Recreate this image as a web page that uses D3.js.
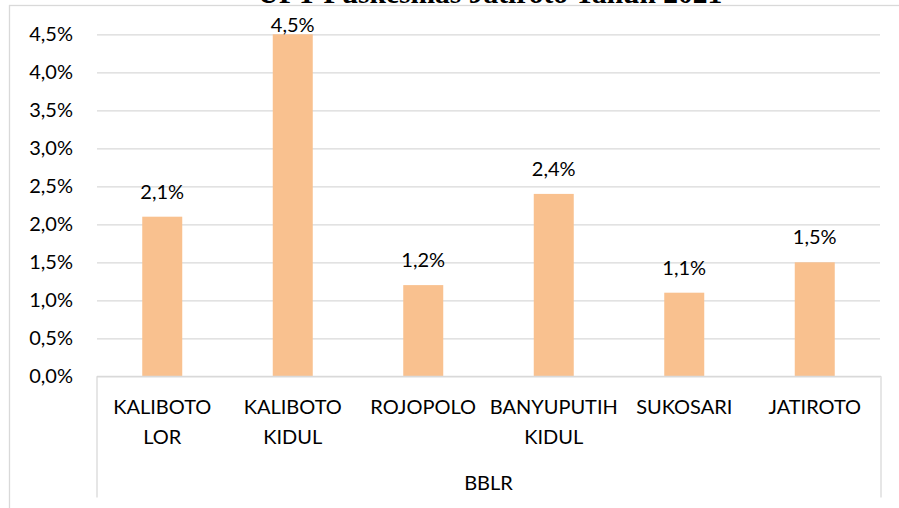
<!DOCTYPE html>
<html>
<head>
<meta charset="utf-8">
<script src="https://cdn.jsdelivr.net/npm/d3@7"></script>
<style>
  body { margin: 0; background: #fff; }
  svg { display: block; }
</style>
</head>
<body>
<div id="chart"></div>
<script>
var categories = ["KALIBOTO LOR", "KALIBOTO KIDUL", "ROJOPOLO", "BANYUPUTIH KIDUL", "SUKOSARI", "JATIROTO"];
var values = [2.1, 4.5, 1.2, 2.4, 1.1, 1.5];
var yTicks = [0, 0.5, 1, 1.5, 2, 2.5, 3, 3.5, 4, 4.5];
var groupLabel = "BBLR";
var titleText = "UPT Puskesmas Jatiroto Tahun 2021";

var width = 899, height = 508;
var plot = { left: 97, right: 880, top: 34.3, bottom: 376.3 };

var fmt = function(v){ return v.toFixed(1).replace(".", ",") + "%"; };

var svg = d3.select("#chart").append("svg")
    .attr("width", width)
    .attr("height", height);

// title cut off at top of the picture
svg.append("text")
    .attr("x", 490)
    .attr("y", 2.5)
    .attr("text-anchor", "middle")
    .style("font-family", "'Liberation Serif', 'Times New Roman', serif")
    .style("font-weight", "bold")
    .style("font-size", "29.5px")
    .attr("fill", "#000")
    .text(titleText);

// chart border
svg.append("rect")
    .attr("x", 9.5).attr("y", 5.5)
    .attr("width", 900).attr("height", 520)
    .attr("fill", "none")
    .attr("stroke", "#d9d9d9")
    .attr("stroke-width", 1.3);

var xScale = d3.scaleBand()
    .domain(categories)
    .range([plot.left, plot.right])
    .padding(0);

var yScale = d3.scaleLinear()
    .domain([0, 4.5])
    .range([plot.bottom, plot.top]);

var font = "Lato, 'Open Sans', sans-serif";

// gridlines
var yAxisGen = d3.axisLeft(yScale)
    .tickValues(yTicks)
    .tickSize(-(plot.right - plot.left))
    .tickPadding(24)
    .tickFormat(fmt);

var yAxis = svg.append("g")
    .attr("class", "Yaxis")
    .attr("transform", "translate(" + plot.left + ",0)")
    .call(yAxisGen);

yAxis.select(".domain").remove();
yAxis.selectAll(".tick line")
    .attr("stroke", "#d9d9d9")
    .attr("stroke-width", 1.3);
yAxis.selectAll(".tick text")
    .attr("fill", "#000")
    .style("font-family", font)
    .style("font-size", "20px");

// bars
var barW = 40;
svg.selectAll(".bar")
    .data(values)
    .enter().append("rect")
    .attr("class", "bar")
    .attr("x", function(d, i){ return xScale(categories[i]) + xScale.bandwidth() / 2 - barW / 2; })
    .attr("y", function(d){ return yScale(d); })
    .attr("width", barW)
    .attr("height", function(d){ return yScale(0) - yScale(d); })
    .attr("fill", "#f9c18f");

// data labels
svg.selectAll(".dlabel")
    .data(values)
    .enter().append("text")
    .attr("class", "dlabel")
    .attr("x", function(d, i){ return xScale(categories[i]) + xScale.bandwidth() / 2; })
    .attr("y", function(d){ return Math.max(yScale(d) - 18, plot.top - 2.5); })
    .attr("text-anchor", "middle")
    .attr("fill", "#000")
    .style("font-family", font)
    .style("font-size", "20px")
    .text(fmt);

// category axis box
var boxBottom = 497.5;
var axisG = svg.append("g").attr("class", "Xaxis");
axisG.append("line")
    .attr("x1", plot.left).attr("x2", plot.right + 1)
    .attr("y1", plot.bottom).attr("y2", plot.bottom)
    .attr("stroke", "#d9d9d9").attr("stroke-width", 1.3);
axisG.append("line")
    .attr("x1", plot.left).attr("x2", plot.left)
    .attr("y1", plot.bottom).attr("y2", boxBottom)
    .attr("stroke", "#d9d9d9").attr("stroke-width", 1.3);
axisG.append("line")
    .attr("x1", plot.right + 1).attr("x2", plot.right + 1)
    .attr("y1", plot.bottom).attr("y2", boxBottom)
    .attr("stroke", "#d9d9d9").attr("stroke-width", 1.3);

// category labels, wrapped on the space
axisG.selectAll(".cat")
    .data(categories)
    .enter().append("text")
    .attr("class", "cat")
    .attr("text-anchor", "middle")
    .attr("fill", "#000")
    .style("font-family", font)
    .style("font-size", "20px")
    .each(function(d){
        var t = d3.select(this);
        var cx = xScale(d) + xScale.bandwidth() / 2;
        d.split(" ").forEach(function(w, j){
            t.append("tspan")
                .attr("x", cx)
                .attr("y", 414 + j * 29.5)
                .text(w);
        });
    });

axisG.append("text")
    .attr("x", (plot.left + plot.right) / 2)
    .attr("y", 490)
    .attr("text-anchor", "middle")
    .attr("fill", "#000")
    .style("font-family", font)
    .style("font-size", "20px")
    .text(groupLabel);
</script>
</body>
</html>
